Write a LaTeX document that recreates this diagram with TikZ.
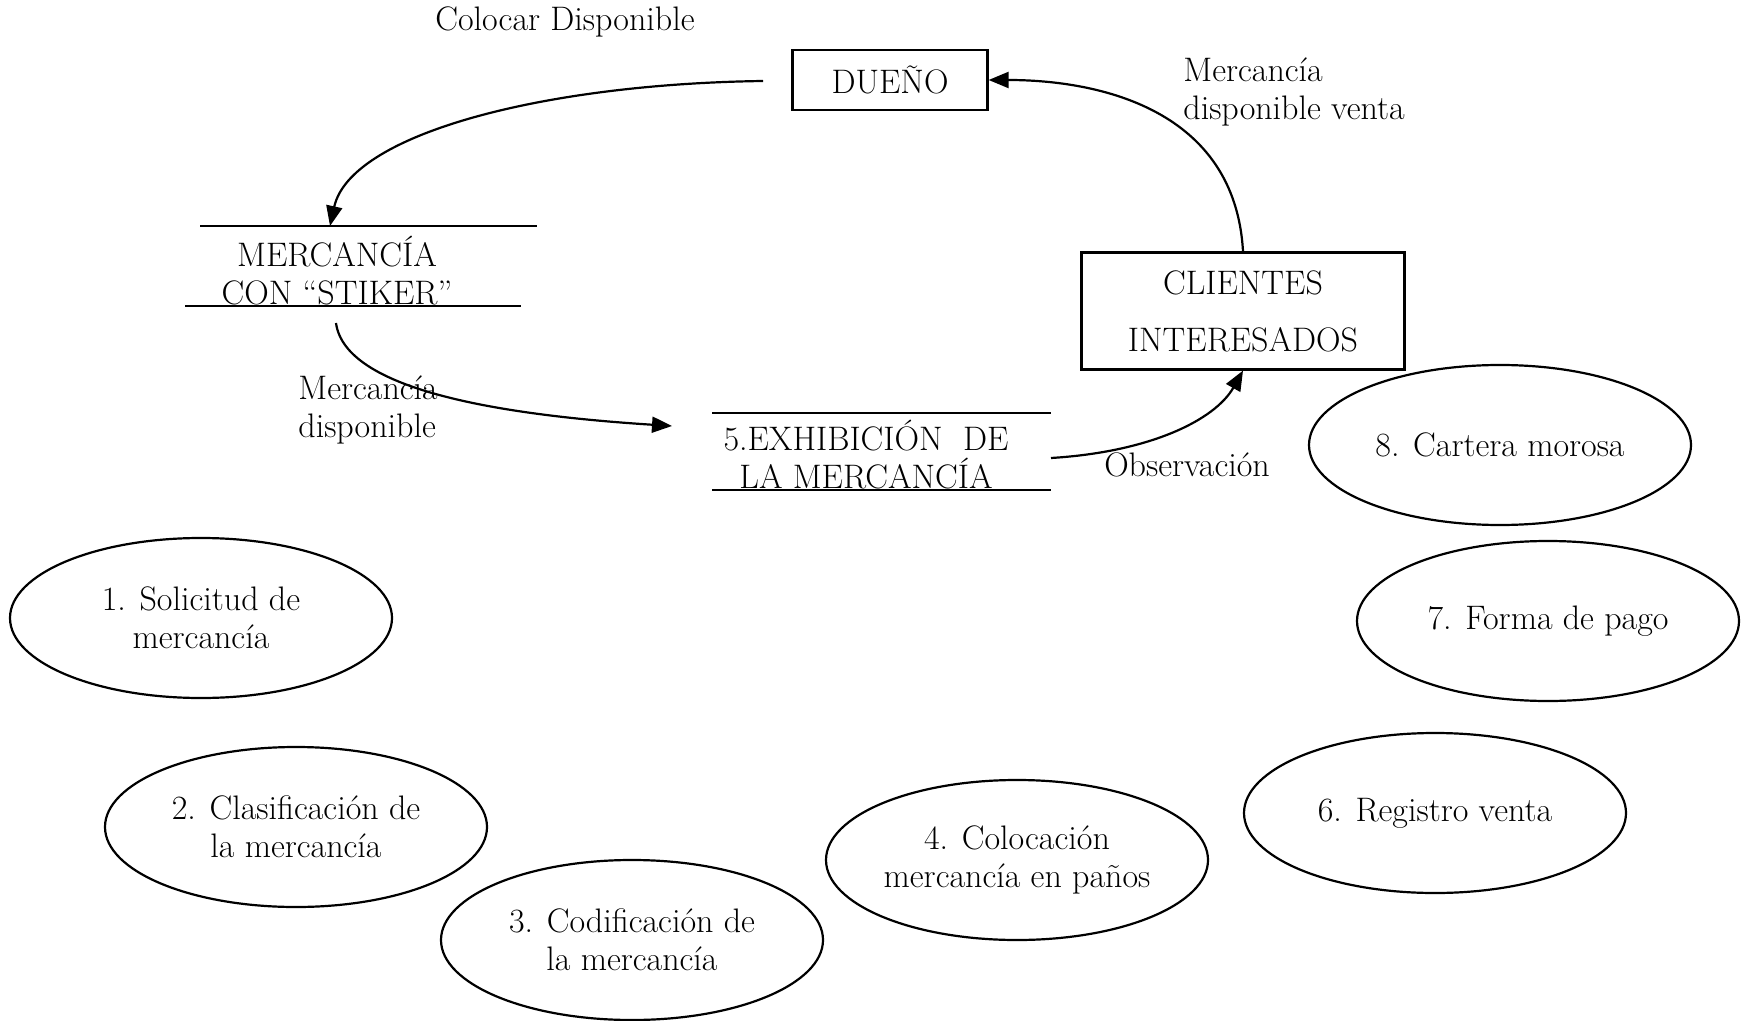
\documentclass[tikz,border=0pt]{standalone}
\usepackage{fontspec}
\usetikzlibrary{arrows.meta,shapes.geometric}
\begin{document}
\begin{tikzpicture}[x=0.5pt,y=-0.5pt,
  txt/.style={font=\fontsize{17}{19}\selectfont, align=center, inner sep=0pt},
  proc/.style={ellipse, draw, line width=1.1pt, minimum width=191pt, minimum height=80pt, inner sep=0pt, align=center, font=\fontsize{17}{19}\selectfont},
  ent/.style={rectangle, draw, line width=1.1pt, inner sep=0pt, align=center, font=\fontsize{17}{19}\selectfont},
  flow/.style={line width=1.1pt, -{Triangle[length=10pt,width=8pt]}},
  storeline/.style={line width=1.1pt}]
\useasboundingbox (0,0) rectangle (1744,1021);

% external entities
\node[ent, minimum width=97.5pt, minimum height=30pt] (dueno) at (890,80) {DUEÑO};
\node[ent, minimum width=161.5pt, minimum height=58.5pt, font=\fontsize{17}{28.5}\selectfont] (clientes) at (1243,311) {CLIENTES\\INTERESADOS};

% data stores
\node[txt] (stk) at (337,271) {MERCANCÍA\\CON “STIKER”};
\draw[storeline] (200,226) -- (537,226);
\draw[storeline] (185,306) -- (521,306);

\node[txt] (exh) at (866,455) {5.EXHIBICIÓN~~DE\\LA MERCANCÍA};
\draw[storeline] (712,413) -- (1051,413);
\draw[storeline] (712,490) -- (1051,490);

% labels
\node[txt] (colocar) at (565,22) {Colocar Disponible};
\node[txt, align=left, anchor=west] (lbl2) at (298,410) {Mercancía\\disponible};
\node[txt] (lbl3) at (1187,465) {Observación};
\node[txt, align=left, anchor=west] (lbl4) at (1183,92) {Mercancía\\disponible venta};

% flows
\coordinate (a1s) at (763,81);
\coordinate (stktop) at (330,226);
\draw[flow] (a1s) .. controls (540,84) and (350,135) .. (stktop);
\coordinate (a2s) at (336,323);
\coordinate (exhin) at (672,426);
\draw[flow] (a2s) .. controls (345,390) and (500,415) .. (exhin);
\coordinate (exhout) at (1051,458);
\draw[flow] (exhout) .. controls (1150,452) and (1215,420) .. (clientes.south);
\draw[flow] (clientes.north) .. controls (1235,110) and (1100,80) .. (dueno.east);

% processes
\node[proc] (p1) at (201,618) {1. Solicitud de\\mercancía};
\node[proc] (p2) at (296,827) {2. Clasificación de\\la mercancía};
\node[proc] (p3) at (632,940) {3. Codificación de\\la mercancía};
\node[proc] (p4) at (1017,860) {4. Colocación\\mercancía en paños};
\node[proc] (p6) at (1435,813) {6. Registro venta};
\node[proc] (p7) at (1548,621) {7. Forma de pago};
\node[proc] (p8) at (1500,445) {8. Cartera morosa};
\end{tikzpicture}
\end{document}
